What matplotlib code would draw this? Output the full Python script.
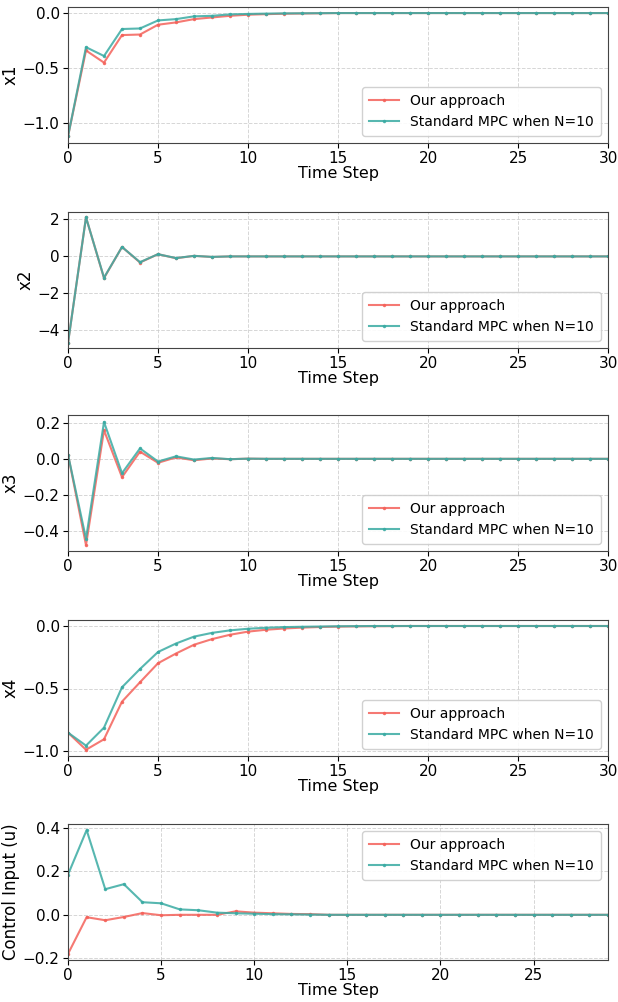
import numpy as np
import matplotlib.pyplot as plt

# Временные шаги
steps_x = np.arange(31)
steps_u = np.arange(30)

OURS_LABEL = "Our approach"
MPC_LABEL = "Standard MPC when N=10"
RED = "#f4625a"
TEAL = "#3aaba3"

tail_x = [0.0] * 16
tail_u = [0.0] * 16

x1_ours = [-1.12, -0.34, -0.45, -0.20, -0.195, -0.106, -0.085, -0.055, -0.04, -0.025,
           -0.015, -0.01, -0.006, -0.004, -0.002] + tail_x
x1_mpc = [-1.12, -0.31, -0.39, -0.145, -0.14, -0.067, -0.055, -0.03, -0.025, -0.012,
          -0.008, -0.005, -0.003, -0.002, -0.001] + tail_x

x2_ours = [-4.68, 2.11, -1.17, 0.51, -0.33, 0.12, -0.10, 0.03, -0.03, 0.0,
           0.0, 0.0, 0.0, 0.0, 0.0] + tail_x
x2_mpc = [-4.68, 2.11, -1.15, 0.51, -0.31, 0.12, -0.09, 0.03, -0.025, 0.0,
          0.0, 0.0, 0.0, 0.0, 0.0] + tail_x

x3_ours = [0.024, -0.48, 0.159, -0.102, 0.04, -0.022, 0.008, -0.008, 0.002, -0.002,
           0.001, 0.0, 0.0, 0.0, 0.0] + tail_x
x3_mpc = [0.024, -0.445, 0.205, -0.08, 0.058, -0.015, 0.014, -0.004, 0.005, -0.002,
          0.001, 0.0, 0.0, 0.0, 0.0] + tail_x

x4_ours = [-0.853, -0.99, -0.906, -0.605, -0.45, -0.298, -0.22, -0.15, -0.105, -0.07,
           -0.045, -0.03, -0.02, -0.013, -0.008] + [-0.005, -0.003, -0.002, -0.001] + [0.0] * 12
x4_mpc = [-0.853, -0.957, -0.813, -0.49, -0.344, -0.208, -0.14, -0.085, -0.055, -0.035,
          -0.022, -0.014, -0.009, -0.006, -0.004] + [-0.002, -0.001] + [0.0] * 14

u_ours = [-0.18, -0.011, -0.025, -0.01, 0.008, -0.002, 0.0, 0.0, 0.0, 0.016,
          0.01, 0.007, 0.004, 0.003] + tail_u
u_mpc = [0.185, 0.39, 0.118, 0.141, 0.058, 0.053, 0.025, 0.021, 0.01, 0.007,
         0.005, 0.003, 0.002, 0.001] + tail_u

panels = [
    ("x1", steps_x, x1_ours, x1_mpc, (-1.18, 0.055), [-1.0, -0.5, 0.0], "{:.1f}", "lower right", 30),
    ("x2", steps_x, x2_ours, x2_mpc, (-4.95, 2.4), [-4, -2, 0, 2], "{:d}", "lower right", 30),
    ("x3", steps_x, x3_ours, x3_mpc, (-0.513, 0.244), [-0.4, -0.2, 0.0, 0.2], "{:.1f}", "lower right", 30),
    ("x4", steps_x, x4_ours, x4_mpc, (-1.04, 0.048), [-1.0, -0.5, 0.0], "{:.1f}", "lower right", 30),
    ("Control Input (u)", steps_u, u_ours, u_mpc, (-0.208, 0.418), [-0.2, 0.0, 0.2, 0.4], "{:.1f}", "upper right", 29),
]

fig = plt.figure(figsize=(6.18, 10.02), dpi=100)
tops = [7, 212, 415, 620, 824]
height = 136
W, H = 618, 1002

for (ylabel, t, ours, mpc, ylim, yticks, fmt, loc, xmax), top in zip(panels, tops):
    ax = fig.add_axes([68 / W, 1 - (top + height) / H, 540 / W, height / H])
    ax.plot(t, ours, '-', color=RED, linewidth=1.5, marker='o', markersize=1.5,
            alpha=0.85, label=OURS_LABEL)
    ax.plot(t, mpc, '-', color=TEAL, linewidth=1.5, marker='o', markersize=1.5,
            alpha=0.85, label=MPC_LABEL)
    ax.set_xlim(0, xmax)
    ax.set_ylim(*ylim)
    ax.set_yticks(yticks)
    ax.set_yticklabels([fmt.format(v).replace('-', '\u2212') for v in yticks])
    ax.set_xticks(np.arange(0, xmax + 1, 5))
    ax.tick_params(labelsize=11, pad=2.5)
    ax.set_xlabel("Time Step", fontsize=11.5, labelpad=0)
    ax.set_ylabel(ylabel, fontsize=12, labelpad=2)
    ax.grid(True, linestyle='--', color='#cccccc', alpha=0.8, linewidth=0.7)
    for s in ax.spines.values():
        s.set_color('#444444')
    ax.legend(loc=loc, fontsize=10, framealpha=0.9, handlelength=2.2,
              borderpad=0.5, labelspacing=0.5)

plt.savefig("out.png", dpi=100)
